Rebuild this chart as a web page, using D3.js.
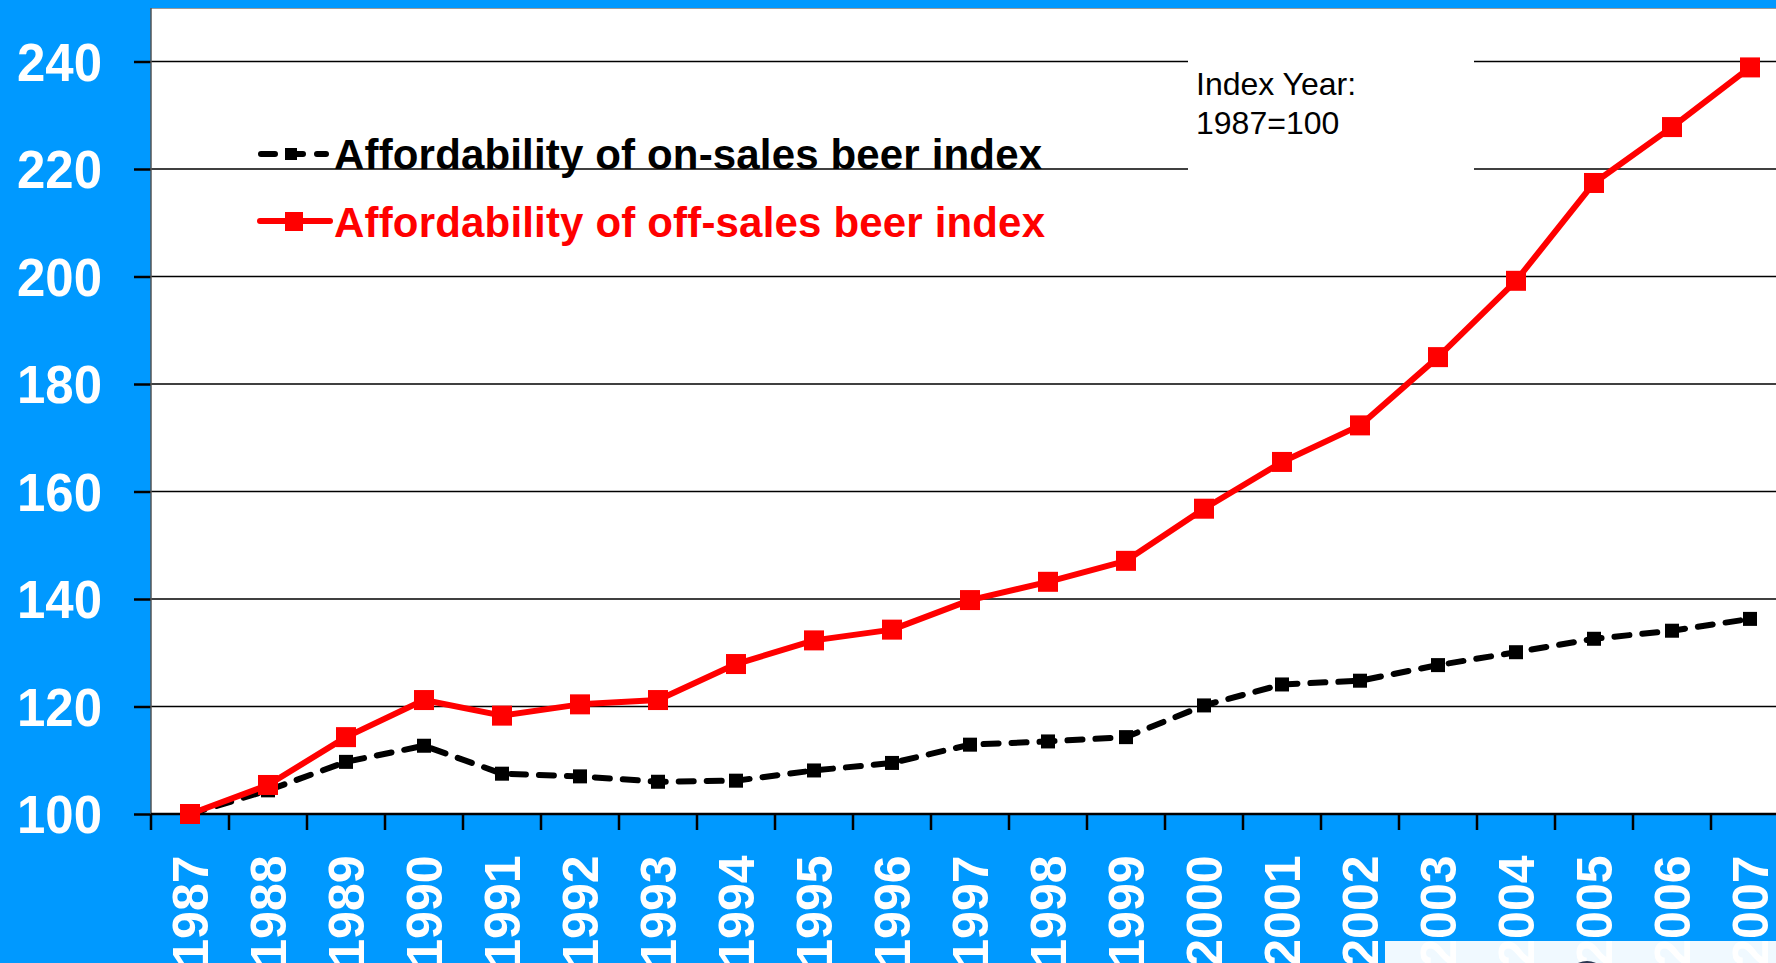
<!DOCTYPE html>
<html>
<head>
<meta charset="utf-8">
<title>Affordability of beer indices 1987–2007</title>
<script src="https://cdn.jsdelivr.net/npm/d3@7"></script>
<style>
  html, body { margin: 0; padding: 0; background: #0099ff; overflow: hidden; }
  svg { display: block; }
</style>
</head>
<body>
<svg id="chart" width="1776" height="963"></svg>
<script>
// Years on the category axis
const years = ["1987","1988","1989","1990","1991","1992","1993","1994","1995","1996",
               "1997","1998","1999","2000","2001","2002","2003","2004","2005","2006","2007"];

// Affordability of on-sales beer index (1987 = 100)
const onSales = [100, 104.4, 109.7, 112.7, 107.5, 107.0, 106.0, 106.2, 108.1, 109.5,
                 112.9, 113.5, 114.3, 120.2, 124.1, 124.8, 127.7, 130.1, 132.6, 134.1, 136.3];

// Affordability of off-sales beer index (1987 = 100)
const offSales = [100, 105.4, 114.3, 121.2, 118.3, 120.4, 121.2, 127.9, 132.3, 134.3,
                  139.8, 143.2, 147.1, 156.8, 165.5, 172.3, 185.0, 199.2, 217.4, 227.8, 238.9];

// Value axis ticks
const yTicks = [100, 120, 140, 160, 180, 200, 220, 240];

// Legend and note texts
const seriesNames = ["Affordability of on-sales beer index", "Affordability of off-sales beer index"];
const noteLines = ["Index Year:", "1987=100"];

const W = 1776, H = 963;
const BLUE = "#0099ff";
const FONT = "Liberation Sans, Arial, sans-serif";
const svg = d3.select("#chart");

const plotLeft = 151, plotTop = 8, plotBottom = 814;
const x = d3.scaleBand().domain(years).range([plotLeft, plotLeft + 78 * years.length]).padding(0);
const y = d3.scaleLinear().domain([100, 240]).range([plotBottom, 61.5]);
const cx = d => x(d) + x.bandwidth() / 2;

// Background
svg.append("rect").attr("width", W).attr("height", H).attr("fill", BLUE);

// Plot area
svg.append("rect")
  .attr("x", plotLeft).attr("y", plotTop)
  .attr("width", W - plotLeft).attr("height", plotBottom - plotTop)
  .attr("fill", "#ffffff");
svg.append("line")
  .attr("x1", plotLeft).attr("x2", W).attr("y1", plotTop + 0.5).attr("y2", plotTop + 0.5)
  .attr("stroke", "#9a9a9a").attr("stroke-width", 1);

// Horizontal gridlines
svg.append("g").selectAll("line")
  .data(yTicks.filter(v => v > 100))
  .join("line")
  .attr("x1", plotLeft).attr("x2", W)
  .attr("y1", d => y(d)).attr("y2", d => y(d))
  .attr("stroke", "#000").attr("stroke-width", 1.4);

// Note box that interrupts the gridlines
svg.append("rect")
  .attr("x", 1188).attr("y", 48).attr("width", 286).attr("height", 132)
  .attr("fill", "#ffffff");
svg.append("g").selectAll("text")
  .data(noteLines)
  .join("text")
  .attr("x", 1196).attr("y", (d, i) => 95 + i * 39)
  .attr("font-family", FONT)
  .attr("font-size", 32)
  .attr("fill", "#000")
  .text(d => d);

// Left axis
const yAxis = svg.append("g")
  .attr("transform", `translate(${plotLeft},0)`)
  .call(d3.axisLeft(y).tickValues(yTicks).tickSize(17).tickSizeOuter(0).tickFormat(""));
yAxis.select(".domain").remove();
yAxis.selectAll(".tick line").attr("stroke", "#000").attr("stroke-width", 2.5);
svg.append("line")
  .attr("x1", plotLeft).attr("x2", plotLeft).attr("y1", plotTop).attr("y2", plotBottom)
  .attr("stroke", "#555").attr("stroke-width", 1.5);

svg.append("g").selectAll("text")
  .data(yTicks)
  .join("text")
  .attr("x", 102).attr("y", d => y(d))
  .attr("text-anchor", "end")
  .attr("dy", "0.36em")
  .attr("font-family", FONT)
  .attr("font-weight", "bold")
  .attr("font-size", 54)
  .attr("textLength", 85)
  .attr("lengthAdjust", "spacingAndGlyphs")
  .attr("fill", "#ffffff")
  .text(d => d);

// Bottom axis: line, ticks on category boundaries, rotated year labels
svg.append("line")
  .attr("x1", plotLeft).attr("x2", W).attr("y1", plotBottom).attr("y2", plotBottom)
  .attr("stroke", "#000").attr("stroke-width", 2.5);
const bounds = d3.range(years.length + 1).map(i => x.range()[0] + i * x.step());
svg.append("g").selectAll("line")
  .data(bounds)
  .join("line")
  .attr("x1", d => d).attr("x2", d => d)
  .attr("y1", plotBottom).attr("y2", plotBottom + 16)
  .attr("stroke", "#000").attr("stroke-width", 2.5);

svg.append("g").selectAll("text")
  .data(years)
  .join("text")
  .attr("transform", d => `translate(${cx(d) + 18},855.5) rotate(-90)`)
  .attr("text-anchor", "end")
  .attr("font-family", FONT)
  .attr("font-weight", "bold")
  .attr("font-size", 50)
  .attr("fill", "#ffffff")
  .text(d => d);

// Series
const line = d3.line().x(d => cx(d.year)).y(d => y(d.v));
const onData = years.map((yr, i) => ({ year: yr, v: onSales[i] }));
const offData = years.map((yr, i) => ({ year: yr, v: offSales[i] }));

svg.append("path")
  .datum(onData)
  .attr("d", line)
  .attr("fill", "none")
  .attr("stroke", "#000")
  .attr("stroke-width", 6)
  .attr("stroke-linecap", "round")
  .attr("stroke-dasharray", "15,13");
svg.append("g").selectAll("rect")
  .data(onData)
  .join("rect")
  .attr("x", d => cx(d.year) - 7).attr("y", d => y(d.v) - 7)
  .attr("width", 14).attr("height", 14)
  .attr("fill", "#000");

svg.append("path")
  .datum(offData)
  .attr("d", line)
  .attr("fill", "none")
  .attr("stroke", "#ff0000")
  .attr("stroke-width", 6)
  .attr("stroke-linejoin", "round");
svg.append("g").selectAll("rect")
  .data(offData)
  .join("rect")
  .attr("x", d => cx(d.year) - 10).attr("y", d => y(d.v) - 10)
  .attr("width", 20).attr("height", 20)
  .attr("fill", "#ff0000");

// Legend
const legend = svg.append("g");
legend.append("line")
  .attr("x1", 261).attr("x2", 326).attr("y1", 154).attr("y2", 154)
  .attr("stroke", "#000").attr("stroke-width", 6)
  .attr("stroke-linecap", "round").attr("stroke-dasharray", "14,14");
legend.append("rect")
  .attr("x", 285).attr("y", 148).attr("width", 12).attr("height", 12).attr("fill", "#000");
legend.append("line")
  .attr("x1", 260).attr("x2", 330).attr("y1", 221).attr("y2", 221)
  .attr("stroke", "#ff0000").attr("stroke-width", 6).attr("stroke-linecap", "round");
legend.append("rect")
  .attr("x", 285).attr("y", 212).attr("width", 18).attr("height", 19).attr("fill", "#ff0000");
legend.selectAll("text")
  .data(seriesNames)
  .join("text")
  .attr("x", 334).attr("y", (d, i) => i === 0 ? 168.5 : 237)
  .attr("font-family", FONT)
  .attr("font-weight", "bold")
  .attr("font-size", 42)
  .attr("textLength", (d, i) => i === 0 ? 708 : 711)
  .attr("lengthAdjust", "spacing")
  .attr("fill", (d, i) => i === 0 ? "#000" : "#ff0000")
  .text(d => d);

// Panel overlapping the lower right corner
svg.append("rect")
  .attr("x", 1385).attr("y", 941).attr("width", W - 1385).attr("height", H - 941)
  .attr("fill", "#ffffff").attr("opacity", 0.94);
svg.append("ellipse")
  .attr("cx", 1587).attr("cy", 985).attr("rx", 22).attr("ry", 24)
  .attr("fill", "#2a3550");
</script>
</body>
</html>
